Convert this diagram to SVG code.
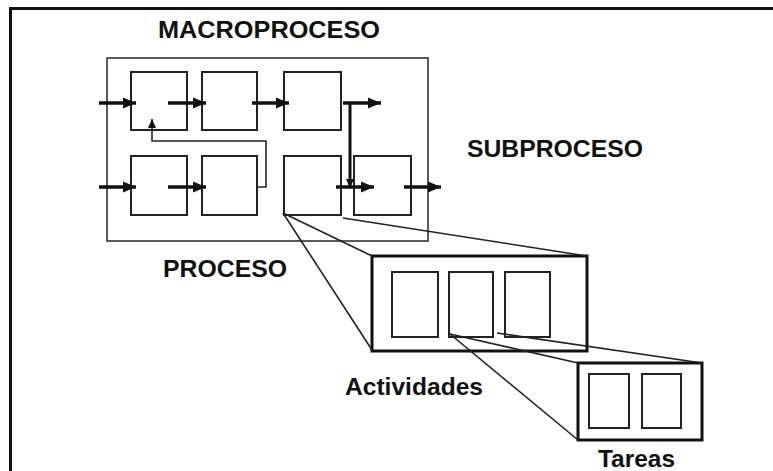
<svg xmlns="http://www.w3.org/2000/svg" width="773" height="471" viewBox="0 0 773 471">
<style>
.lbl{font-family:"Liberation Sans",Arial,sans-serif;font-weight:bold;font-size:24px;fill:#111}
.box{fill:none;stroke:#222;stroke-width:2}
.thick{fill:none;stroke:#111;stroke-width:3}
.arr{stroke:#111;stroke-width:3.5;fill:none;marker-end:url(#ah)}
.thin{stroke:#222;stroke-width:1.6;fill:none}
</style>
<defs>
<marker id="ah" markerUnits="userSpaceOnUse" markerWidth="14" markerHeight="14" viewBox="0 0 14 14" refX="13" refY="7" orient="auto">
<path d="M0,1.5 L13,7 L0,12.5 Z" fill="#111"/>
</marker>
<marker id="ahs" markerUnits="userSpaceOnUse" markerWidth="10" markerHeight="10" viewBox="0 0 10 10" refX="9" refY="5" orient="auto">
<path d="M0,1 L9,5 L0,9 Z" fill="#111"/>
</marker>
</defs>
<rect width="773" height="471" fill="#fff"/>
<path d="M10.5,471 V8.5 H773" fill="none" stroke="#111" stroke-width="3"/>

<g id="macroproceso">
<rect x="107" y="58" width="321" height="183" fill="none" stroke="#333" stroke-width="1.6"/>
<text class="lbl" x="158" y="38" textLength="222" lengthAdjust="spacingAndGlyphs" font-size="25">MACROPROCESO</text>
</g>
<g id="p11"><rect class="box" x="131" y="72" width="56" height="58"/></g>
<g id="p12"><rect class="box" x="202" y="72" width="55" height="58"/></g>
<g id="p13"><rect class="box" x="284" y="72" width="57" height="58"/></g>
<g id="p21"><rect class="box" x="131" y="156" width="56" height="59"/></g>
<g id="p22"><rect class="box" x="202" y="156" width="55" height="59"/></g>
<g id="p23"><rect class="box" x="284" y="156" width="57" height="59"/></g>
<g id="p24"><rect class="box" x="354" y="156" width="57" height="59"/></g>
<g id="subproceso"><text class="lbl" x="467" y="157" textLength="176" lengthAdjust="spacingAndGlyphs">SUBPROCESO</text></g>
<g id="proceso"><text class="lbl" x="163" y="277" textLength="124" lengthAdjust="spacingAndGlyphs">PROCESO</text></g>

<g id="actividades">
<rect class="thick" x="372" y="256" width="215" height="95"/>
<rect class="box" x="392" y="272" width="46" height="65"/>
<rect class="box" x="449" y="272" width="44" height="65"/>
<rect class="box" x="505" y="272" width="45" height="65"/>
<text class="lbl" x="345" y="395" textLength="138" lengthAdjust="spacingAndGlyphs">Actividades</text>
</g>
<g id="tareas">
<rect class="thick" x="578" y="363" width="124" height="77"/>
<rect class="box" x="589" y="374" width="40" height="54"/>
<rect class="box" x="642" y="374" width="39" height="54"/>
<text class="lbl" x="598" y="467" textLength="77" lengthAdjust="spacingAndGlyphs">Tareas</text>
</g>

<g id="connectors">
<line class="arr" x1="99" y1="103" x2="136" y2="103"/>
<line class="arr" x1="168" y1="103" x2="206" y2="103"/>
<line class="arr" x1="252" y1="103" x2="289" y2="103"/>
<line class="arr" x1="343" y1="103" x2="381" y2="103"/>
<line class="arr" x1="99" y1="187" x2="136" y2="187"/>
<line class="arr" x1="168" y1="187" x2="206" y2="187"/>
<line class="arr" x1="336" y1="187" x2="374" y2="187"/>
<line class="arr" x1="404" y1="187" x2="441" y2="187"/>
<line x1="350" y1="103" x2="350" y2="188" stroke="#111" stroke-width="3" marker-end="url(#ahs)"/>
<polyline class="thin" points="257,187 266,187 266,141 152,141 152,119" marker-end="url(#ahs)"/>
<line class="thin" x1="283" y1="213" x2="372" y2="256"/>
<line class="thin" x1="283" y1="213" x2="372" y2="350"/>
<line class="thin" x1="343" y1="218" x2="587" y2="256"/>
<line class="thin" x1="450" y1="334" x2="578" y2="363"/>
<line class="thin" x1="450" y1="334" x2="578" y2="440"/>
<line class="thin" x1="497" y1="333" x2="702" y2="363"/>
</g>
</svg>
